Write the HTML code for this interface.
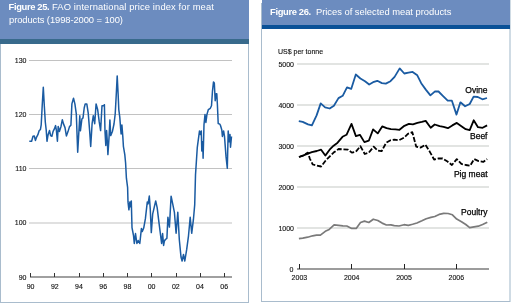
<!DOCTYPE html>
<html><head><meta charset="utf-8"><style>
html,body{margin:0;padding:0;width:511px;height:303px;overflow:hidden;background:#fff;font-family:"Liberation Sans", sans-serif;}
.a{position:absolute;}
body{will-change:transform;}
.t{position:absolute;color:#fff;font-size:9.4px;white-space:pre;line-height:12px;}
</style></head><body>
<div class="a" style="left:0;top:0;width:249px;height:303px;box-sizing:border-box;border-left:1px solid #a9bccd;border-right:1px solid #a9bccd;border-bottom:1px solid #a9bccd;"></div>
<div class="a" style="left:0;top:0;width:249px;height:39px;background:#6c8cbf;"></div>
<div class="a" style="left:0;top:39px;width:249px;height:5px;background:#386a8c;"></div>
<div class="t" style="left:8.5px;top:0.5px;"><b style="letter-spacing:-0.35px">Figure 25.</b><span style="letter-spacing:0.12px"> FAO international price index for meat</span></div>
<div class="t" style="left:9px;top:13.7px;letter-spacing:-0.08px">products (1998-2000 = 100)</div>
<div class="a" style="left:509px;top:0;width:2px;height:302px;background:#cfdbe4;"></div>
<div class="a" style="left:261px;top:3px;width:249px;height:299px;box-sizing:border-box;border-left:1px solid #a9bccd;border-bottom:1px solid #a9bccd;"></div>
<div class="a" style="left:262px;top:0;width:248px;height:25px;background:#6c8cbf;"></div>
<div class="a" style="left:262px;top:25px;width:248px;height:4px;background:#0a5197;"></div>
<div class="t" style="left:270px;top:6px;"><b style="letter-spacing:-0.35px">Figure 26.</b><span style="letter-spacing:-0.02px">  Prices of selected meat products</span></div>
<svg class="a" style="left:0;top:0" width="511" height="303" viewBox="0 0 511 303" font-family='"Liberation Sans", sans-serif'>
<line x1="29" y1="60.5" x2="232" y2="60.5" stroke="#c2c2c2" stroke-width="1.2"/>
<line x1="29" y1="114.5" x2="232" y2="114.5" stroke="#c2c2c2" stroke-width="1.2"/>
<line x1="29" y1="168.5" x2="232" y2="168.5" stroke="#c2c2c2" stroke-width="1.2"/>
<line x1="29" y1="223" x2="232" y2="223" stroke="#c2c2c2" stroke-width="1.2"/>
<line x1="30" y1="277" x2="232" y2="277" stroke="#808080" stroke-width="1.5"/>
<line x1="30.5" y1="273" x2="30.5" y2="277" stroke="#333" stroke-width="1"/>
<line x1="54.5" y1="273" x2="54.5" y2="277" stroke="#333" stroke-width="1"/>
<line x1="79.5" y1="273" x2="79.5" y2="277" stroke="#333" stroke-width="1"/>
<line x1="103.5" y1="273" x2="103.5" y2="277" stroke="#333" stroke-width="1"/>
<line x1="127.5" y1="273" x2="127.5" y2="277" stroke="#333" stroke-width="1"/>
<line x1="151.5" y1="273" x2="151.5" y2="277" stroke="#333" stroke-width="1"/>
<line x1="176.5" y1="273" x2="176.5" y2="277" stroke="#333" stroke-width="1"/>
<line x1="200.5" y1="273" x2="200.5" y2="277" stroke="#333" stroke-width="1"/>
<line x1="224.5" y1="273" x2="224.5" y2="277" stroke="#333" stroke-width="1"/>
<path d="M29.3 141.3 L31.6 141.3 L33.0 136.3 L34.3 136.0 L35.4 140.4 L36.6 137.1 L37.9 134.7 L39.2 130.5 L40.4 129.7 L41.2 124.8 L42.2 105.8 L43.3 87.3 L44.3 105.8 L45.3 122.0 L46.2 130.0 L47.0 141.3 L48.1 134.7 L49.5 130.5 L50.6 135.5 L51.9 136.3 L53.1 131.4 L54.4 128.9 L55.6 125.6 L56.4 130.5 L57.4 141.3 L58.2 126.4 L59.4 131.4 L61.0 126.4 L62.3 119.8 L63.5 123.9 L65.0 127.6 L66.4 135.9 L68.0 131.6 L69.5 126.6 L70.9 125.2 L71.9 103.9 L73.5 98.3 L74.9 103.9 L76.3 113.8 L77.7 152.2 L79.8 115.8 L80.4 130.8 L81.9 119.0 L83.0 117.9 L84.2 108.0 L85.2 103.9 L86.8 103.9 L88.2 112.8 L89.7 131.6 L90.7 146.4 L92.1 123.7 L93.3 115.7 L94.7 123.7 L96.1 103.9 L97.7 109.8 L99.2 121.7 L100.6 130.6 L102.0 105.8 L103.6 105.8 L104.4 104.7 L105.0 131.5 L105.8 145.5 L106.6 130.6 L107.4 143.0 L107.9 154.6 L109.1 136.4 L109.9 119.9 L110.7 135.6 L112.4 131.5 L114.0 124.0 L115.2 114.0 L116.2 95.7 L117.2 75.9 L118.2 95.7 L118.8 109.6 L119.8 117.4 L120.6 128.2 L121.1 133.9 L121.9 124.9 L122.8 136.4 L123.4 146.3 L124.8 154.6 L125.6 163.0 L126.4 178.2 L127.6 187.3 L128.0 201.9 L128.9 209.8 L129.9 201.9 L130.5 206.8 L131.3 200.9 L132.0 227.6 L133.5 235.5 L134.3 243.5 L135.5 233.6 L136.9 243.5 L138.2 240.5 L139.8 243.5 L141.4 228.6 L142.2 231.6 L143.8 227.6 L145.4 218.7 L147.3 201.9 L148.1 203.9 L149.3 196.0 L150.3 209.8 L151.3 232.6 L152.7 213.8 L154.1 207.8 L155.7 200.9 L157.2 207.8 L158.6 219.7 L160.6 235.5 L161.6 243.5 L162.6 233.6 L163.6 245.4 L164.4 241.0 L165.4 239.5 L166.9 238.3 L167.9 217.2 L169.4 227.1 L171.1 196.2 L172.9 204.9 L174.4 212.3 L176.1 233.3 L177.8 212.3 L179.3 239.5 L181.0 257.0 L182.1 261.0 L183.5 254.5 L184.8 261.0 L186.7 249.4 L188.5 235.8 L190.2 217.2 L191.7 233.3 L193.4 219.7 L194.7 204.9 L195.5 175.0 L197.3 147.3 L199.5 130.9 L200.5 134.5 L201.3 130.9 L201.8 150.9 L202.7 141.8 L203.1 158.2 L204.0 124.5 L205.0 114.6 L205.9 122.5 L206.9 114.6 L208.3 109.7 L210.3 108.3 L211.5 105.7 L212.5 90.8 L213.5 81.9 L214.3 82.9 L215.2 100.7 L216.2 93.8 L216.8 93.8 L217.4 104.7 L218.2 123.5 L219.8 124.1 L220.5 125.5 L221.8 130.0 L222.4 136.4 L223.6 130.9 L224.5 136.4 L226.0 156.4 L227.3 168.2 L228.2 130.9 L229.1 141.8 L230.0 134.5 L230.5 147.3 L231.5 136.4" fill="none" stroke="#1a5ba2" stroke-width="1.5" stroke-linejoin="round"/>
<line x1="297" y1="64" x2="489" y2="64" stroke="#e2e4e2" stroke-width="2"/>
<line x1="297" y1="105" x2="489" y2="105" stroke="#e2e4e2" stroke-width="2"/>
<line x1="297" y1="146" x2="489" y2="146" stroke="#e2e4e2" stroke-width="2"/>
<line x1="297" y1="187" x2="489" y2="187" stroke="#e2e4e2" stroke-width="2"/>
<line x1="297" y1="228" x2="489" y2="228" stroke="#e2e4e2" stroke-width="2"/>
<line x1="297" y1="269" x2="489" y2="269" stroke="#9c9c9c" stroke-width="2"/>
<line x1="299.5" y1="264" x2="299.5" y2="269" stroke="#222" stroke-width="1"/>
<line x1="351.5" y1="264" x2="351.5" y2="269" stroke="#222" stroke-width="1"/>
<line x1="404.5" y1="264" x2="404.5" y2="269" stroke="#222" stroke-width="1"/>
<line x1="456.5" y1="264" x2="456.5" y2="269" stroke="#222" stroke-width="1"/>
<path d="M298.9 238.6 L302.8 238.2 L307.7 237.2 L312.6 235.8 L316.5 235.2 L320.4 235.2 L325.3 231.3 L329.2 229.4 L334.1 224.9 L338.6 225.4 L342.9 225.8 L346.8 226.0 L351.7 228.4 L356.2 228.4 L360.5 222.5 L364.5 221.1 L368.8 222.5 L373.3 219.2 L377.8 220.5 L382.1 223.1 L386.4 225.0 L390.9 224.9 L394.3 225.6 L399.0 226.0 L404.0 224.7 L408.3 225.4 L412.6 224.3 L416.9 223.0 L421.9 220.8 L426.2 218.7 L430.9 217.4 L434.8 216.5 L439.1 214.4 L443.8 213.3 L448.1 213.5 L452.4 214.8 L456.7 219.1 L461.5 221.7 L465.8 224.5 L469.7 227.7 L474.0 226.9 L478.3 226.2 L482.6 224.5 L487.3 222.3" fill="none" stroke="#7a7a7a" stroke-width="1.7" stroke-linejoin="round"/>
<path d="M299.0 157.0 L302.9 155.6 L307.9 152.6 L309.8 158.6 L312.8 164.5 L316.8 165.5 L321.1 166.5 L325.7 160.5 L329.6 156.6 L333.6 152.6 L338.6 149.0 L342.5 149.3 L348.0 149.6 L351.9 152.6 L355.9 151.6 L360.4 146.2 L364.8 154.0 L368.8 152.6 L373.7 146.6 L377.7 150.6 L381.6 151.2 L386.2 142.7 L390.5 140.3 L394.5 139.7 L398.9 140.3 L404.0 137.7 L407.9 133.8 L412.3 132.2 L416.2 146.6 L420.8 147.6 L425.3 144.7 L429.7 151.6 L434.1 159.5 L438.6 158.5 L442.6 158.5 L447.5 161.5 L451.9 165.0 L456.8 159.1 L461.4 163.9 L465.7 165.0 L470.1 165.8 L474.1 159.1 L478.6 161.1 L483.2 161.9 L487.1 159.1" fill="none" stroke="#000" stroke-width="1.8" stroke-dasharray="5 1.8" stroke-linejoin="round"/>
<path d="M299.0 157.0 L302.9 155.6 L307.9 153.6 L311.8 152.2 L316.8 151.0 L321.1 149.7 L325.3 155.6 L329.6 149.7 L333.6 145.7 L337.6 142.7 L342.5 136.8 L346.5 134.8 L351.5 123.9 L355.9 136.1 L359.9 134.8 L364.4 142.1 L368.8 140.7 L373.1 129.4 L377.7 133.4 L382.2 126.4 L386.6 128.2 L390.9 129.2 L395.5 129.4 L399.5 129.8 L404.4 125.8 L408.9 123.9 L412.9 124.3 L417.4 122.9 L421.8 121.9 L425.7 120.9 L430.7 127.8 L434.7 124.5 L439.6 126.2 L443.6 126.8 L447.9 128.2 L452.3 125.4 L456.8 122.9 L461.4 126.2 L465.7 129.2 L469.7 130.2 L473.7 120.3 L478.0 127.2 L482.6 127.8 L487.1 125.4" fill="none" stroke="#000" stroke-width="1.8" stroke-linejoin="round"/>
<path d="M298.8 121.2 L302.7 121.9 L308.0 124.4 L311.9 125.4 L316.6 115.4 L320.7 103.4 L325.1 107.3 L329.7 108.5 L333.9 105.7 L338.5 98.1 L342.7 95.8 L347.0 87.3 L351.2 88.9 L355.8 74.5 L360.4 78.5 L365.0 81.2 L369.2 84.5 L373.1 82.2 L377.3 80.8 L381.9 83.1 L385.8 83.6 L390.5 81.2 L394.6 76.9 L399.7 68.4 L404.3 73.5 L408.5 72.6 L412.6 71.9 L417.3 75.3 L421.2 83.2 L425.8 89.6 L430.4 95.4 L435.0 91.3 L438.5 91.5 L443.1 96.1 L447.7 100.7 L451.9 100.7 L456.5 114.6 L460.4 102.3 L465.1 106.3 L469.7 104.0 L473.6 96.6 L477.8 97.0 L482.4 99.3 L487.0 98.0" fill="none" stroke="#1a5ba2" stroke-width="1.8" stroke-linejoin="round"/>
<text x="26.5" y="63.3" font-size="7" text-anchor="end" fill="#111" stroke="#111" stroke-width="0.12" font-weight="normal">130</text>
<text x="26.5" y="117.3" font-size="7" text-anchor="end" fill="#111" stroke="#111" stroke-width="0.12" font-weight="normal">120</text>
<text x="26.5" y="171.3" font-size="7" text-anchor="end" fill="#111" stroke="#111" stroke-width="0.12" font-weight="normal">110</text>
<text x="26.5" y="225.3" font-size="7" text-anchor="end" fill="#111" stroke="#111" stroke-width="0.12" font-weight="normal">100</text>
<text x="26.5" y="279.8" font-size="7" text-anchor="end" fill="#111" stroke="#111" stroke-width="0.12" font-weight="normal">90</text>
<text x="30.6" y="288.8" font-size="7" text-anchor="middle" fill="#111" stroke="#111" stroke-width="0.12" font-weight="normal">90</text>
<text x="54.8" y="288.8" font-size="7" text-anchor="middle" fill="#111" stroke="#111" stroke-width="0.12" font-weight="normal">92</text>
<text x="79.0" y="288.8" font-size="7" text-anchor="middle" fill="#111" stroke="#111" stroke-width="0.12" font-weight="normal">94</text>
<text x="103.2" y="288.8" font-size="7" text-anchor="middle" fill="#111" stroke="#111" stroke-width="0.12" font-weight="normal">96</text>
<text x="127.4" y="288.8" font-size="7" text-anchor="middle" fill="#111" stroke="#111" stroke-width="0.12" font-weight="normal">98</text>
<text x="151.6" y="288.8" font-size="7" text-anchor="middle" fill="#111" stroke="#111" stroke-width="0.12" font-weight="normal">00</text>
<text x="175.8" y="288.8" font-size="7" text-anchor="middle" fill="#111" stroke="#111" stroke-width="0.12" font-weight="normal">02</text>
<text x="200.0" y="288.8" font-size="7" text-anchor="middle" fill="#111" stroke="#111" stroke-width="0.12" font-weight="normal">04</text>
<text x="224.2" y="288.8" font-size="7" text-anchor="middle" fill="#111" stroke="#111" stroke-width="0.12" font-weight="normal">06</text>
<text x="294" y="67" font-size="7" text-anchor="end" fill="#111" stroke="#111" stroke-width="0.12" font-weight="normal">5000</text>
<text x="294" y="108" font-size="7" text-anchor="end" fill="#111" stroke="#111" stroke-width="0.12" font-weight="normal">4000</text>
<text x="294" y="149" font-size="7" text-anchor="end" fill="#111" stroke="#111" stroke-width="0.12" font-weight="normal">3000</text>
<text x="294" y="190" font-size="7" text-anchor="end" fill="#111" stroke="#111" stroke-width="0.12" font-weight="normal">2000</text>
<text x="294" y="231" font-size="7" text-anchor="end" fill="#111" stroke="#111" stroke-width="0.12" font-weight="normal">1000</text>
<text x="293.5" y="271.5" font-size="7" text-anchor="end" fill="#111" stroke="#111" stroke-width="0.12" font-weight="normal">0</text>
<text x="278" y="54.2" font-size="7" text-anchor="start" fill="#111" stroke="#111" stroke-width="0.12" font-weight="normal">US$ per tonne</text>
<text x="299.4" y="279.8" font-size="7" text-anchor="middle" fill="#111" stroke="#111" stroke-width="0.12" font-weight="normal">2003</text>
<text x="351.7" y="279.8" font-size="7" text-anchor="middle" fill="#111" stroke="#111" stroke-width="0.12" font-weight="normal">2004</text>
<text x="404.0" y="279.8" font-size="7" text-anchor="middle" fill="#111" stroke="#111" stroke-width="0.12" font-weight="normal">2005</text>
<text x="456.3" y="279.8" font-size="7" text-anchor="middle" fill="#111" stroke="#111" stroke-width="0.12" font-weight="normal">2006</text>
<text x="487.5" y="93" font-size="8.5" text-anchor="end" fill="#000" stroke="#000" stroke-width="0.25" font-weight="normal">Ovine</text>
<text x="487.5" y="138.7" font-size="8.5" text-anchor="end" fill="#000" stroke="#000" stroke-width="0.25" font-weight="normal">Beef</text>
<text x="487.5" y="176.5" font-size="8.5" text-anchor="end" fill="#000" stroke="#000" stroke-width="0.25" font-weight="normal">Pig meat</text>
<text x="487.5" y="214.8" font-size="8.5" text-anchor="end" fill="#000" stroke="#000" stroke-width="0.25" font-weight="normal">Poultry</text>
</svg>
</body></html>
